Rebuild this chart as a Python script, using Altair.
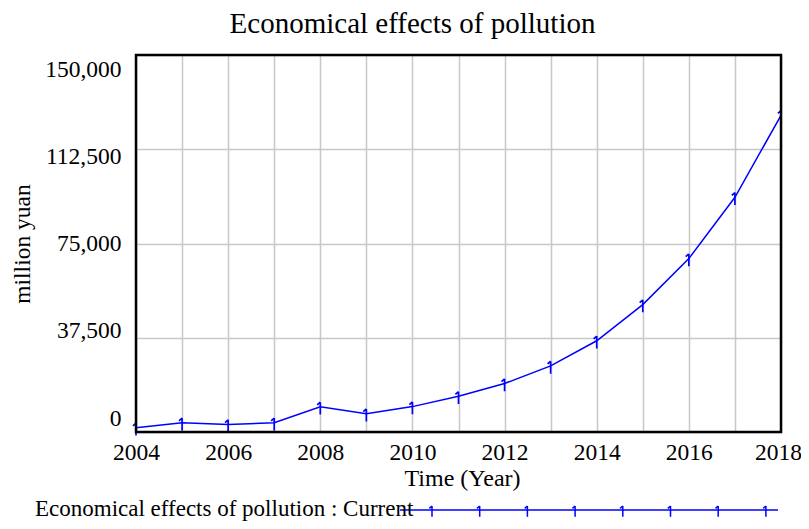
import altair as alt
import pandas as pd

years = list(range(2004, 2019))
values = [1700, 3700, 3000, 3700, 10000, 7300, 10100, 14200, 19300, 26300,
          36300, 50700, 69000, 93400, 126000]
series_name = "Economical effects of pollution : Current"
title_text = "Economical effects of pollution"
y_ticks = [0, 37500, 75000, 112500, 150000]

df = pd.DataFrame({"year": years, "value": values})

W, H = 645, 377
FONT = "Liberation Serif"
BLUE = "#0000ff"
marker_path = "M0,-0.6 L0,1 M0,-0.6 L-0.4,-0.25"

x_enc = alt.X("year:Q",
              scale=alt.Scale(domain=[2004, 2018], nice=False, zero=False),
              axis=alt.Axis(values=years, title="Time (Year)",
                            labelExpr="datum.value % 2 == 0 ? datum.label : ''",
                            labelOffset={"expr": "datum.value == 2018 ? -3 : 0"},
                            format="d", grid=True, gridColor="#c8c8c8", gridWidth=1.5,
                            ticks=False, domain=False, labelFont=FONT, labelFontSize=23.5,
                            labelColor="black", labelPadding=8, labelFlush=False,
                            titleFont=FONT, titleFontSize=24, titleFontWeight="normal",
                            titleColor="black", titlePadding=3, titleX=326))
y_enc = alt.Y("value:Q",
              scale=alt.Scale(domain=[0, 150000], nice=False),
              axis=alt.Axis(values=y_ticks, title="million yuan", format=",d",
                            grid=True, gridColor="#c8c8c8", gridWidth=1.5,
                            ticks=False, domain=False, labelFont=FONT, labelFontSize=23.5,
                            labelColor="black", labelPadding=15,
                            labelOffset={"expr": "(datum.value - 75000) / 75000 * 14"},
                            titleFont=FONT, titleFontSize=23.5, titleFontWeight="normal",
                            titleColor="black", titlePadding=10))

base = alt.Chart(df)
line = base.mark_line(color=BLUE, strokeWidth=1.5).encode(x=x_enc, y=y_enc)
pts = base.mark_point(shape=marker_path, size=240, color=BLUE, filled=False,
                      strokeWidth=1.7, opacity=1).encode(x="year:Q", y="value:Q")

frame = alt.Chart(pd.DataFrame({"a": [0]})).mark_rect(
    fill=None, fillOpacity=0, stroke="black", strokeWidth=2.5
).encode(x=alt.value(0), x2=alt.value(W), y=alt.value(0), y2=alt.value(H))

leg_text = alt.Chart(pd.DataFrame({"t": [series_name]})).mark_text(
    font=FONT, fontSize=23, align="left", baseline="alphabetic", color="black"
).encode(text="t:N", x=alt.value(-101), y=alt.value(461))
leg_rule = alt.Chart(pd.DataFrame({"a": [0]})).mark_rule(color=BLUE, strokeWidth=1.5).encode(
    x=alt.value(264), x2=alt.value(642), y=alt.value(455))
leg_px = pd.DataFrame({"px": [296 + 47.7 * i for i in range(8)], "py": [455] * 8})
leg_pts = alt.Chart(leg_px).mark_point(shape=marker_path, size=180, color=BLUE, filled=False,
                                       strokeWidth=1.5, opacity=1).encode(
    x=alt.X("px:Q", scale=None), y=alt.Y("py:Q", scale=None))

chart = alt.layer(line, pts, frame, leg_rule, leg_pts, leg_text).properties(
    width=W, height=H,
    title=alt.TitleParams(title_text, font=FONT, fontSize=29, fontWeight="normal",
                          color="black", anchor="middle", dx=-46, offset=15),
    autosize=alt.AutoSizeParams(type="none"),
    padding={"left": 128, "top": 47, "right": 20, "bottom": 89},
).configure_view(stroke=None).configure(background="white")

chart.save("out.html", embed_options={"renderer": "svg", "actions": False})
